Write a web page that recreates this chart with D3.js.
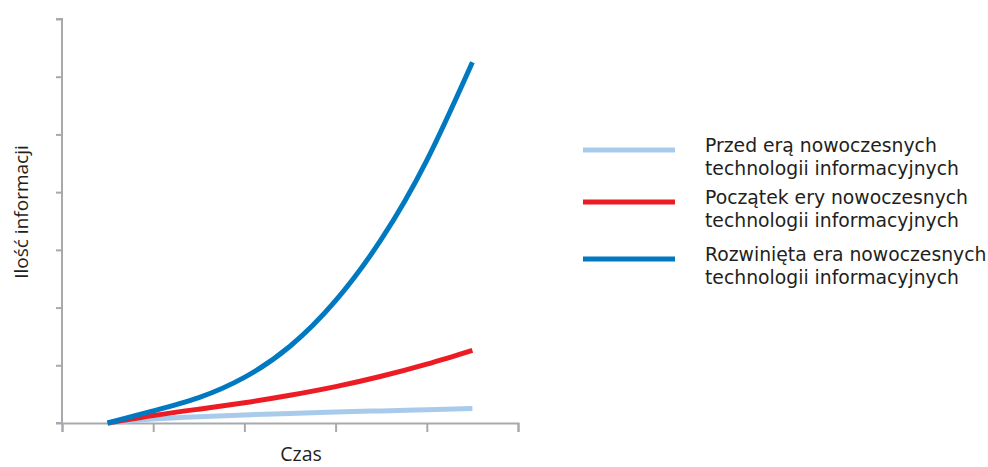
<!DOCTYPE html>
<html>
<head>
<meta charset="utf-8">
<script src="https://cdn.jsdelivr.net/npm/d3@7"></script>
<style>
  html, body { margin: 0; padding: 0; background: #fff; }
  svg { display: block; }
  .lbl { font-family: "Open Sans", "Noto Sans", sans-serif; fill: #231f20; }
  .leg { font-family: "DejaVu Sans", Verdana, sans-serif; fill: #231f20; }
</style>
</head>
<body>
<svg id="chart" width="988" height="467"></svg>
<script>
// Time positions along the x axis (arbitrary units)
const timePoints = [0.5, 1.0, 1.5, 2.0, 2.5, 3.0, 3.5, 4.0, 4.5];

// Amount of information for each era
const beforeEra   = [0, 0.07, 0.11, 0.14, 0.165, 0.19, 0.21, 0.23, 0.25];
const earlyEra    = [0, 0.13, 0.24, 0.35, 0.48, 0.63, 0.81, 1.02, 1.26];
const advancedEra = [0, 0.21, 0.44, 0.79, 1.33, 2.12, 3.18, 4.55, 6.25];

const seriesNames = [
  ["Przed erą nowoczesnych", "technologii informacyjnych"],
  ["Początek ery nowoczesnych", "technologii informacyjnych"],
  ["Rozwinięta era nowoczesnych", "technologii informacyjnych"]
];
const seriesColors = ["#a9cbeb", "#ed1c24", "#0079c1"];
const seriesValues = [beforeEra, earlyEra, advancedEra];

const xTicks = [0, 1, 2, 3, 4, 5];
const yTicks = [0, 1, 2, 3, 4, 5, 6, 7];

const svg = d3.select("#chart");
const axisColor = "#a7a9ac";

const x = d3.scaleLinear().domain([0, 5]).range([62, 518]);
const y = d3.scaleLinear().domain([0, 7]).range([423, 19]);

// Axes
const xAxis = svg.append("g").attr("transform", "translate(0,423)")
  .call(d3.axisBottom(x).tickValues(xTicks).tickSize(9).tickFormat(""));
const yAxis = svg.append("g").attr("transform", "translate(62,0)")
  .call(d3.axisLeft(y).tickValues(yTicks).tickSize(6).tickFormat(""));
[xAxis, yAxis].forEach(g => {
  g.selectAll("path").attr("stroke", axisColor).attr("stroke-width", 2);
  g.selectAll("line").attr("stroke", axisColor).attr("stroke-width", 2);
});
yAxis.select(".domain").attr("d", "M-6,19H0V423");
// small extension of the x axis to the left of the origin
svg.append("line").attr("x1", 56).attr("x2", 62).attr("y1", 423).attr("y2", 423)
  .attr("stroke", axisColor).attr("stroke-width", 2);

// Curves
const line = d3.line()
  .x((d, i) => x(timePoints[i]))
  .y(d => y(d))
  .curve(d3.curveNatural);

seriesValues.forEach((vals, k) => {
  svg.append("path")
    .attr("d", line(vals))
    .attr("fill", "none")
    .attr("stroke", seriesColors[k])
    .attr("stroke-width", 5);
});

// Axis titles
svg.append("text").attr("class", "lbl")
  .attr("x", 301).attr("y", 461).attr("text-anchor", "middle")
  .attr("font-size", 19.5).text("Czas");
svg.append("text").attr("class", "lbl")
  .attr("transform", "translate(28,212) rotate(-90)")
  .attr("text-anchor", "middle").attr("font-size", 19).text("Ilość informacji");

// Legend
const legendY = [150, 202, 259];
seriesNames.forEach((name, k) => {
  const g = svg.append("g");
  g.append("line").attr("x1", 583).attr("x2", 675)
    .attr("y1", legendY[k]).attr("y2", legendY[k])
    .attr("stroke", seriesColors[k]).attr("stroke-width", 5);
  const t = g.append("text").attr("class", "leg").attr("font-size", 18.8);
  t.append("tspan").attr("x", 705).attr("y", legendY[k] + 2).text(name[0]);
  t.append("tspan").attr("x", 705).attr("y", legendY[k] + 25).text(name[1]);
});
</script>
</body>
</html>
